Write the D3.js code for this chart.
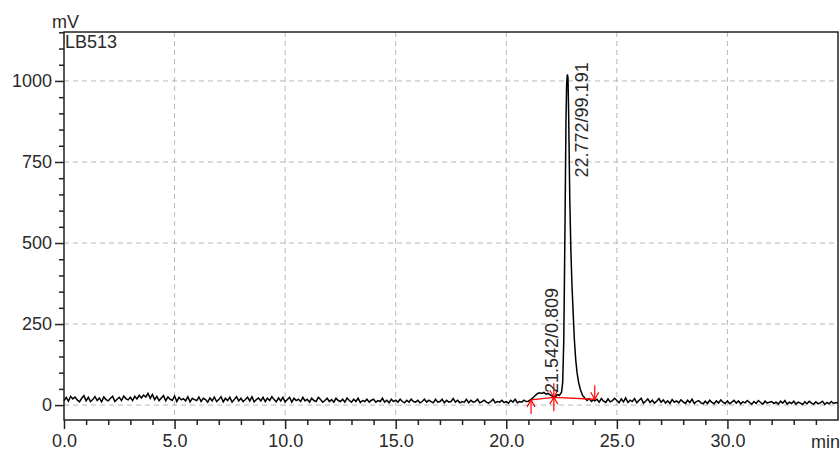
<!DOCTYPE html>
<html><head><meta charset="utf-8">
<script src="https://cdn.jsdelivr.net/npm/d3@7"></script>
<style>body{margin:0;background:#fff}text{font-family:"Liberation Sans",Arial,sans-serif;fill:#2a2a2a}</style>
</head><body><svg id="c" width="840" height="452"></svg>
<script>
// ---- data ----
const xTicks = [0,5,10,15,20,25,30];
const xTickLabels = ["0.0","5.0","10.0","15.0","20.0","25.0","30.0"];
const yTicks = [0,250,500,750,1000];
const yTickLabels = ["0","250","500","750","1000"];
const sampleName = "LB513";
// baseline before the peaks: t = 0.0 .. 20.9, step 0.1 (mV)
const preStart = 0.0, preStep = 0.1;
const preMV = [
14,24,12,27,19,25,16,10,21,29, 13,24,11,17,26,14,22,10,25,17,
13,21,27,11,18,24,14,28,20,16, 24,14,27,19,30,22,31,25,36,21,
33,17,27,14,22,29,13,25,18,15, 28,11,24,16,20,13,26,10,21,17,
14,25,11,21,17,9,22,13,25,11, 17,26,10,21,14,24,9,17,26,13,
21,11,17,24,13,26,10,17,22,13, 24,11,21,14,26,17,10,22,13,24,
10,17,24,9,21,14,18,11,24,13, 18,9,21,14,11,24,17,9,14,21,
11,17,9,21,14,11,18,9,22,14, 9,18,11,21,8,14,11,18,9,15,
18,9,14,11,21,9,15,7,18,11, 15,9,18,11,7,15,9,18,11,9,
15,7,11,18,9,15,11,7,18,9, 11,18,7,15,9,11,20,9,15,7,
11,9,18,7,15,9,11,18,7,11, 15,9,6,11,18,7,11,9,15,8,
11,6,15,9,18,7,11,9,15,11];
// peak region (min, mV)
const peakTime = [21.0,21.1,21.2,21.3,21.4,21.5,21.6,21.7,21.8,21.9,22.0,22.1,22.2,22.3,22.4,22.5,22.55,22.6,22.65,22.7,22.73,22.76,22.79,22.82,22.87,22.92,22.97,23.02,23.08,23.14,23.2,23.27,23.35,23.45,23.55,23.65,23.75,23.85,23.95,24.0];
const peakMV   = [12,17,22,29,35,38,36,39,34,36,31,27,24,32,30,40,70,200,520,880,990,1020,1010,900,640,480,370,290,200,140,100,70,48,30,22,14,20,11,17,13];
// baseline after the peaks: t = 24.1 .. 35.0, step 0.1 (mV)
const postStart = 24.1, postStep = 0.1;
const postMV = [
18,9,20,12,8,19,10,14,21,
14,7,19,10,22,8,15,11,20,7, 14,21,6,12,19,8,15,6,12,20,
9,16,6,13,5,17,9,13,7,16, 10,5,15,8,18,5,11,14,7,4,
12,5,15,8,4,13,6,16,9,5, 13,4,9,15,6,13,4,10,7,14,
8,3,11,5,14,8,3,12,6,9, 11,5,9,3,12,6,14,3,9,5,
12,3,9,6,2,10,4,12,6,3, 10,4,7,12,2,8,4,11,5,8, 6];
// integration baselines (min, mV) and peak annotations
const baseTime = [21.12,22.15,24.0];
const baseMV   = [16,24,18];
const baseKind = ["start","split","end"];
const peakLabelTime = [21.542,22.772];
const peakLabels = ["21.542/0.809","22.772/99.191"];
const peakLabelMV = [40,1020];

// ---- layout ----
const L=64,R=838,T=32,B=420;
const svg=d3.select("#c");
const x=d3.scaleLinear().domain([0,35]).range([L,R]);
const y=d3.scaleLinear().domain([-46,1151]).range([B,T]);

const trace=[];
preMV.forEach((v,i)=>trace.push([preStart+i*preStep,v]));
peakTime.forEach((t,i)=>trace.push([t,peakMV[i]]));
postMV.forEach((v,i)=>trace.push([postStart+i*postStep,v]));

// grid
const g=svg.append("g");
g.selectAll("line.v").data(xTicks.filter(d=>d>0)).join("line")
 .attr("x1",d=>x(d)).attr("x2",d=>x(d)).attr("y1",T).attr("y2",B)
 .attr("stroke","#b8b8b8").attr("stroke-dasharray","5,4");
g.selectAll("line.h").data(yTicks).join("line")
 .attr("y1",d=>y(d)).attr("y2",d=>y(d)).attr("x1",L).attr("x2",R)
 .attr("stroke","#b8b8b8").attr("stroke-dasharray","5,4");

// axes
const yAxis=d3.axisLeft(y).tickValues(yTicks).tickFormat((d,i)=>yTickLabels[i]).tickSize(9).tickSizeOuter(0);
const yMinor=d3.axisLeft(y).tickValues(d3.range(-50,1151,50).filter(v=>v>-46&&v%250!==0)).tickFormat("").tickSize(5).tickSizeOuter(0);
const xAxis=d3.axisBottom(x).tickValues(xTicks).tickFormat((d,i)=>xTickLabels[i]).tickSize(9).tickSizeOuter(0);
const xMinor=d3.axisBottom(x).tickValues(d3.range(1,35,1).filter(v=>v%5!==0)).tickFormat("").tickSize(5).tickSizeOuter(0);
[[yAxis,`translate(${L},0)`],[yMinor,`translate(${L},0)`],[xAxis,`translate(0,${B})`],[xMinor,`translate(0,${B})`]].forEach(([a,tr])=>{
  const ga=svg.append("g").attr("transform",tr).call(a);
  ga.select(".domain").remove();
  ga.selectAll("line").attr("stroke","#222").attr("stroke-width",1.5);
  ga.selectAll("text").attr("font-size",18).attr("fill","#2a2a2a").style("font-family","Liberation Sans, Arial, sans-serif");
});
svg.selectAll("g").filter(function(){return this.getAttribute("transform")===`translate(${L},0)`;}).selectAll("text").attr("x",-12);
svg.selectAll("g").filter(function(){return this.getAttribute("transform")===`translate(0,${B})`;}).selectAll("text").attr("y",14);

// frame
svg.append("rect").attr("x",L).attr("y",T).attr("width",R-L).attr("height",B-T)
 .attr("fill","none").attr("stroke","#222").attr("stroke-width",1.5);

// trace
svg.append("path").datum(trace).attr("fill","none").attr("stroke","#000").attr("stroke-width",1.5)
 .attr("d",d3.line().x(d=>x(d[0])).y(d=>y(d[1])));

// integration baselines
const bl=baseTime.map((t,i)=>[t,baseMV[i]]);
svg.append("path").datum(bl).attr("fill","none").attr("stroke","#ff0000").attr("stroke-width",1.3)
 .attr("d",d3.line().x(d=>x(d[0])).y(d=>y(d[1])));
bl.forEach((d,i)=>{
  const px=x(d[0]),py=y(d[1]),k=baseKind[i];
  const m=svg.append("g").attr("stroke","#ff0000").attr("stroke-width",1.2).attr("fill","none");
  if(k!=="end"){ // arrow from below
    m.append("line").attr("x1",px).attr("x2",px).attr("y1",py).attr("y2",py+14);
    m.append("path").attr("d",`M${px-4},${py+7}L${px},${py}L${px+4},${py+7}`);
  }
  if(k!=="start"){ // arrow from above
    m.append("line").attr("x1",px).attr("x2",px).attr("y1",py).attr("y2",py-14);
    m.append("path").attr("d",`M${px-4},${py-7}L${px},${py}L${px+4},${py-7}`);
  }
});

// peak labels
peakLabels.forEach((s,i)=>{
  const px=x(peakLabelTime[i])+ (i===0?18:20), py=y(peakLabelMV[i])+(i===0?1:103);
  svg.append("text").attr("transform",`translate(${px},${py}) rotate(-90)`)
   .attr("font-size",18).text(s);
});

// titles
svg.append("text").attr("x",52).attr("y",28).attr("font-size",18).text("mV");
svg.append("text").attr("x",65).attr("y",48).attr("font-size",18).text(sampleName);
svg.append("text").attr("x",840).attr("y",448).attr("font-size",18).attr("text-anchor","end").text("min");
</script></body></html>
